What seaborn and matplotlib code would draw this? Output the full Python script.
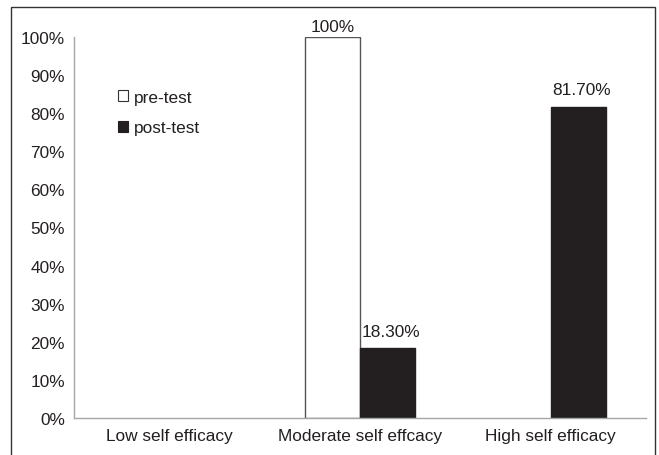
import matplotlib
matplotlib.use("Agg")
import matplotlib.pyplot as plt
from matplotlib.patches import Patch, Rectangle
import seaborn as sns
import pandas as pd

categories = ["Low self efficacy", "Moderate self effcacy", "High self efficacy"]
pre_test = [0, 100, 0]
post_test = [0, 18.3, 81.7]
pre_labels = ["", "100%", ""]
post_labels = ["", "18.30%", "81.70%"]
yticks = [0, 10, 20, 30, 40, 50, 60, 70, 80, 90, 100]
ytick_labels = [f"{v}%" for v in yticks]
series = ["pre-test", "post-test"]

df = pd.DataFrame({
    "category": categories * 2,
    "value": pre_test + post_test,
    "series": [series[0]] * 3 + [series[1]] * 3,
})

sns.set_theme(style="white")
plt.rcParams["font.family"] = ["Liberation Sans", "DejaVu Sans"]
TXT = "#231f20"
DARK = "#231f20"
FS = 12.4

fig = plt.figure(figsize=(6.59, 4.56), dpi=100)
ax = fig.add_axes([74 / 659, 37 / 456, 572 / 659, 381 / 456])

sns.barplot(data=df, x="category", y="value", hue="series", order=categories,
            hue_order=series, palette={"pre-test": "white", "post-test": DARK},
            width=0.577, saturation=1, ax=ax, legend=False)

offsets = [(0, 2), (2.2, 7)]
for cont, labels, edge, off in zip(ax.containers, [pre_labels, post_labels],
                                    ["#555555", DARK], offsets):
    for p in cont:
        if p.get_height() == 0:
            p.set_linewidth(0)
        else:
            p.set_edgecolor(edge)
            p.set_linewidth(1.0)
    texts = ax.bar_label(cont, labels=labels, padding=off[1], fontsize=FS, color=TXT)
    for t in texts:
        t.xyann = off

ax.set_ylim(0, 100)
ax.set_xlim(-0.5, 2.5)
ax.set_yticks(yticks)
ax.set_yticklabels(ytick_labels)
ax.tick_params(axis="both", length=0, labelsize=FS, colors=TXT)
ax.tick_params(axis="y", pad=6.5)
ax.tick_params(axis="x", pad=7.5)
ax.set_xlabel("")
ax.set_ylabel("")
for s in ["top", "right"]:
    ax.spines[s].set_visible(False)
for s in ["left", "bottom"]:
    ax.spines[s].set_color("#a6a6a6")
    ax.spines[s].set_linewidth(1.0)

handles = [Patch(facecolor="white", edgecolor="#333333", linewidth=0.8, label="pre-test"),
           Patch(facecolor=DARK, edgecolor=DARK, linewidth=0.8, label="post-test")]
ax.legend(handles=handles, loc="upper left", bbox_to_anchor=(0.077, 0.861),
          frameon=False, fontsize=FS, handlelength=0.6, handleheight=0.6,
          handletextpad=0.3, labelspacing=0.89, labelcolor=TXT,
          borderaxespad=0, borderpad=0)

fig.patches.append(Rectangle((11 / 659, -10 / 456), 644 / 659, 458 / 456,
                             transform=fig.transFigure, fill=False,
                             edgecolor="#333333", linewidth=1.0))

fig.savefig("out.png", dpi=100)
